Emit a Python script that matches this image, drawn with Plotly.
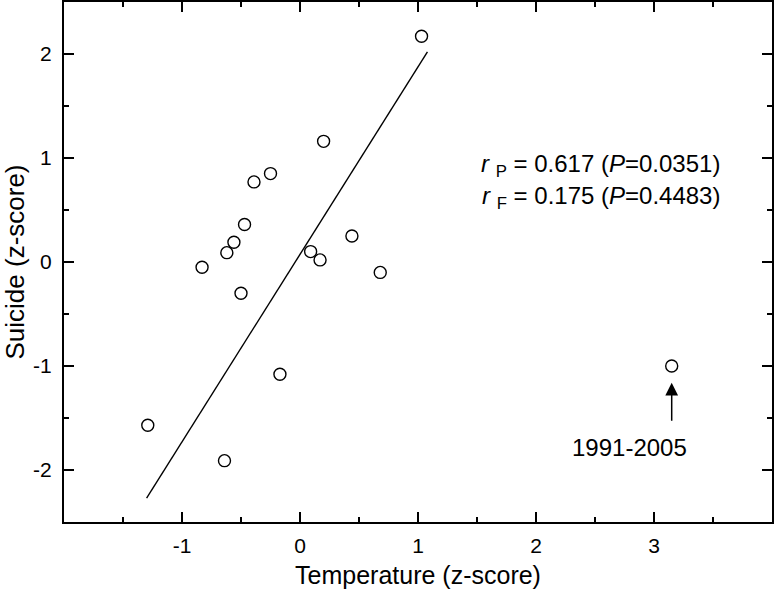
import plotly.graph_objs as go

# Data (z-scores)
temperature = [1.03, 0.20, -0.25, -0.39, -0.47, -0.56, -0.62, -0.83, 0.09, 0.17,
               0.44, 0.68, -0.50, -0.17, -1.29, -0.64, 3.15]
suicide = [2.17, 1.16, 0.85, 0.77, 0.36, 0.19, 0.09, -0.05, 0.10, 0.02,
           0.25, -0.10, -0.30, -1.08, -1.57, -1.91, -1.00]

# regression line end points
fit_x = [-1.30, 1.08]
fit_y = [-2.27, 2.02]

x_ticks = [-1, 0, 1, 2, 3]
y_ticks = [-2, -1, 0, 1, 2]

FONT = "Arial, Liberation Sans, sans-serif"


def create_graph():
    fig = go.Figure()

    # fitted line
    fig.add_trace(go.Scatter(
        x=fit_x, y=fit_y, mode="lines",
        line=dict(color="black", width=1.4),
        showlegend=False, hoverinfo="skip"
    ))

    # open circles
    fig.add_trace(go.Scatter(
        x=temperature, y=suicide, mode="markers",
        marker=dict(symbol="circle-open", size=12, color="black", line=dict(width=1.4)),
        showlegend=False
    ))

    axis_common = dict(
        showline=True, linecolor="black", linewidth=2, mirror="ticks",
        ticks="inside", ticklen=10, tickwidth=1.5, tickcolor="black",
        showgrid=False, zeroline=False, automargin=False,
        tickfont=dict(family=FONT, size=21, color="black"),
        minor=dict(ticks="inside", ticklen=5, tickwidth=1.5, tickcolor="black", dtick=0.5),
    )

    fig.update_xaxes(
        range=[-2, 4], tickvals=x_ticks, ticktext=[str(v) for v in x_ticks],
        ticklabelstandoff=4,
        title=dict(text="Temperature (z-score)", font=dict(family=FONT, size=25, color="black"), standoff=10),
        **axis_common
    )
    fig.update_yaxes(
        range=[-2.5, 2.5], tickvals=y_ticks, ticktext=[str(v) for v in y_ticks],
        ticklabelstandoff=6,
        title=dict(text="Suicide (z-score)", font=dict(family=FONT, size=26, color="black"), standoff=10),
        **axis_common
    )

    ann_font = dict(family=FONT, size=24, color="black")
    fig.add_annotation(x=3.58, y=0.93, xref="x", yref="y", xanchor="right", yanchor="middle",
                       text="<i>r</i> <sub>P</sub> = 0.617 (<i>P</i>=0.0351)",
                       showarrow=False, font=ann_font)
    fig.add_annotation(x=3.58, y=0.62, xref="x", yref="y", xanchor="right", yanchor="middle",
                       text="<i>r</i> <sub>F</sub> = 0.175 (<i>P</i>=0.4483)",
                       showarrow=False, font=ann_font)

    # outlier label with arrow
    fig.add_annotation(x=3.15, y=-1.16, ax=3.15, ay=-1.54, xref="x", yref="y", axref="x", ayref="y",
                       text="", showarrow=True, arrowhead=2, arrowsize=1.7, arrowwidth=1.5, arrowcolor="black")
    fig.add_annotation(x=2.79, y=-1.78, xref="x", yref="y", text="1991-2005",
                       showarrow=False, font=ann_font)

    fig.update_layout(
        width=776, height=592,
        margin=dict(l=64, r=4, t=2, b=70),
        plot_bgcolor="white", paper_bgcolor="white",
        font=dict(family=FONT, color="black"),
    )

    # drop the page's default body margin so the figure sits at the window's corner
    fig.write_html("out.html", config={"displayModeBar": False},
                   post_script="document.body.style.margin = '0px';")


if __name__ == "__main__":
    create_graph()
